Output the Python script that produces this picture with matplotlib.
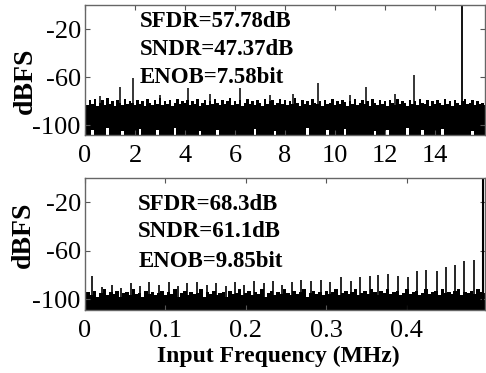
import numpy as np
import matplotlib
matplotlib.use("Agg")
import matplotlib.pyplot as plt
from matplotlib.ticker import FixedLocator

plt.rcParams['font.family'] = ['Liberation Serif', 'DejaVu Serif']

# ---- upper spectrum (fs/2 = 16 MHz), noise level per 0.1 MHz bin, dBFS ----
f_top = np.arange(0, 161) * 0.1
top_level = [
    -80, -83, -79, -82, -78, -84, -81, -79, -83, -77, -82, -80, -84, -79, -81, -83, -78, -82, -80, -81,
    -83, -79, -82, -80, -84, -78, -81, -83, -79, -82, -77, -83, -80, -82, -79, -84, -81, -78, -82, -80,
    -81, -79, -83, -80, -82, -78, -84, -81, -79, -83, -80, -82, -78, -81, -83, -79, -82, -80, -77, -83,
    -80, -82, -79, -84, -81, -78, -82, -80, -83, -79, -81, -84, -78, -82, -80, -79, -83, -81, -78, -82,
    -79, -83, -80, -82, -77, -81, -84, -79, -82, -80, -83, -78, -81, -82, -80, -84, -79, -82, -81, -78,
    -83, -80, -82, -79, -81, -84, -80, -82, -78, -83, -81, -79, -82, -80, -84, -78, -81, -83, -79, -82,
    -80, -84, -79, -81, -83, -78, -82, -80, -81, -84, -79, -82, -80, -83, -78, -81, -82, -79, -84, -80,
    -82, -79, -81, -83, -78, -82, -80, -84, -79, -81, -83, -80, -78, -82, -81, -79, -83, -80, -82, -81,
    -83,
]
# bins where the noise does not reach the floor (white gaps at the bottom)
top_gap_f = [0.3, 0.9, 1.5, 2.2, 2.9, 3.6, 4.6, 5.3, 6.8, 7.6, 8.9, 9.7, 10.4, 11.6, 12.1, 12.9, 13.5, 14.3, 15.5]
top_gap_db = [-104, -102, -105, -103, -104, -102, -105, -104, -103, -105, -102, -104, -103, -105, -104, -102, -104, -103, -105]
# spurs and input tone
top_spur_f = [0.6, 1.4, 1.9, 3.0, 4.1, 5.0, 6.2, 7.4, 8.3, 9.3, 10.6, 11.25, 12.4, 13.15]
top_spur_db = [-76, -68, -61, -75, -69, -74, -69, -75, -74, -65, -75, -68, -74, -57.8]
top_tone_f, top_tone_db = 15.08, 0

# ---- lower spectrum (fs/2 = 0.5 MHz), noise level per 4 kHz bin ----
f_bot = np.arange(0, 125) * 0.004
bot_level = [
    -96, -94, -97, -93, -98, -95, -92, -97, -94, -96, -93, -98, -95, -94, -97, -92, -96, -95, -98, -93, -96, -94, -97, -95, -93,
    -97, -94, -96, -92, -98, -95, -93, -97, -94, -96, -95, -92, -98, -94, -96, -93, -97, -95, -94, -98, -93, -96, -95, -92, -97,
    -95, -93, -97, -94, -96, -92, -98, -95, -93, -97, -94, -96, -92, -95, -97, -93, -96, -94, -92, -98, -95, -93, -96, -94, -97,
    -93, -96, -94, -92, -97, -95, -93, -96, -94, -92, -97, -95, -93, -96, -92, -94, -97, -93, -95, -92, -96, -94, -93, -97, -95,
    -92, -96, -94, -93, -97, -95, -92, -96, -94, -93, -97, -92, -95, -94, -96, -93, -92, -97, -94, -95, -93, -96, -92, -94, -95,
]
bot_spur_f = [0.009, 0.021, 0.033, 0.045, 0.057, 0.068, 0.080, 0.092, 0.104, 0.116, 0.127, 0.139, 0.151, 0.163,
              0.175, 0.186, 0.198, 0.210, 0.222, 0.234, 0.245, 0.257, 0.269, 0.281, 0.293, 0.305, 0.318, 0.330,
              0.342, 0.354, 0.364, 0.377, 0.389, 0.401, 0.412, 0.424, 0.437, 0.448, 0.460, 0.471, 0.483]
bot_spur_db = [-80.6, -90, -88, -91, -87, -89, -86, -88, -86, -89, -87, -86, -88, -87,
               -89, -86, -88, -85, -87, -85, -88, -86, -84, -85, -84, -86, -82, -84.8,
               -82, -80.7, -80, -79.3, -80.7, -82, -76.5, -76, -76.5, -73.2, -71.6, -68.8, -67.7]
bot_tone_f, bot_tone_db = 0.494, 0

top_text = ['SFDR=57.78dB', 'SNDR=47.37dB', 'ENOB=7.58bit']
bot_text = ['SFDR=68.3dB', 'SNDR=61.1dB', 'ENOB=9.85bit']
top_xticks = [0, 2, 4, 6, 8, 10, 12, 14]
bot_xticks = [0, 0.1, 0.2, 0.3, 0.4]
yticks = [-100, -60, -20]

FLOOR = -115
W, H = 486, 373
fig = plt.figure(figsize=(W / 100, H / 100), dpi=100)
ax1 = fig.add_axes([85 / W, 1 - 135 / H, 400 / W, 130 / H])
ax2 = fig.add_axes([85 / W, 1 - 310 / H, 400 / W, 132 / H])

# upper plot: noise bins as abutting bars, spurs as thin lines
top_low = np.full(len(f_top), FLOOR, dtype=float)
for f, d in zip(top_gap_f, top_gap_db):
    top_low[int(round(f / 0.1))] = d
ax1.bar(f_top, np.array(top_level) - top_low, bottom=top_low, width=0.11,
        color='k', linewidth=0)
ax1.vlines(top_spur_f, FLOOR, top_spur_db, color='k', lw=1.1)
ax1.vlines([top_tone_f], FLOOR, [top_tone_db], color='k', lw=1.3)
ax1.set_xlim(0, 16)
ax1.set_ylim(-108, 0)
ax1.xaxis.set_major_locator(FixedLocator(top_xticks))
ax1.set_xticklabels([str(t) for t in top_xticks])

# lower plot
bot_level = np.array(bot_level, dtype=float)
ax2.bar(f_bot, bot_level - FLOOR, bottom=FLOOR, width=0.0044, color='k', linewidth=0)
ax2.vlines(bot_spur_f, FLOOR, bot_spur_db, color='k', lw=1.2)
ax2.vlines([bot_tone_f], FLOOR, [bot_tone_db], color='k', lw=1.5)
ax2.set_xlim(0, 0.497)
ax2.set_ylim(-109, 0)
ax2.xaxis.set_major_locator(FixedLocator(bot_xticks))
ax2.set_xticklabels(['0', '0.1', '0.2', '0.3', '0.4'])
ax2.set_xlabel('Input Frequency (MHz)', fontsize=17, fontweight='bold', labelpad=2)
ax2.xaxis.set_label_coords(0.484, -0.27)

for ax in (ax1, ax2):
    ax.yaxis.set_major_locator(FixedLocator(yticks))
    ax.set_yticklabels([str(t) for t in yticks])
    ax.tick_params(direction='in', top=True, right=True, length=3.5, width=0.8,
                   color='#555555', labelsize=19)
    ax.tick_params(axis='x', pad=7)
    ax.tick_params(axis='y', pad=3)
    for s in ax.spines.values():
        s.set_color('#666666')
        s.set_linewidth(1.0)
    ax.set_ylabel('dBFS', fontsize=20, fontweight='bold')

ax1.yaxis.set_label_coords(-0.118, 0.415)
ax2.yaxis.set_label_coords(-0.122, 0.568)

for txt, yy in zip(top_text, [0.833, 0.615, 0.398]):
    ax1.text(0.1375, yy, txt, transform=ax1.transAxes, fontsize=16.5,
             fontweight='bold', va='baseline', ha='left')
for txt, yy in zip(bot_text, [0.758, 0.553, 0.326]):
    ax2.text(0.133, yy, txt, transform=ax2.transAxes, fontsize=16.5,
             fontweight='bold', va='baseline', ha='left')

fig.savefig('out.png', dpi=100)
